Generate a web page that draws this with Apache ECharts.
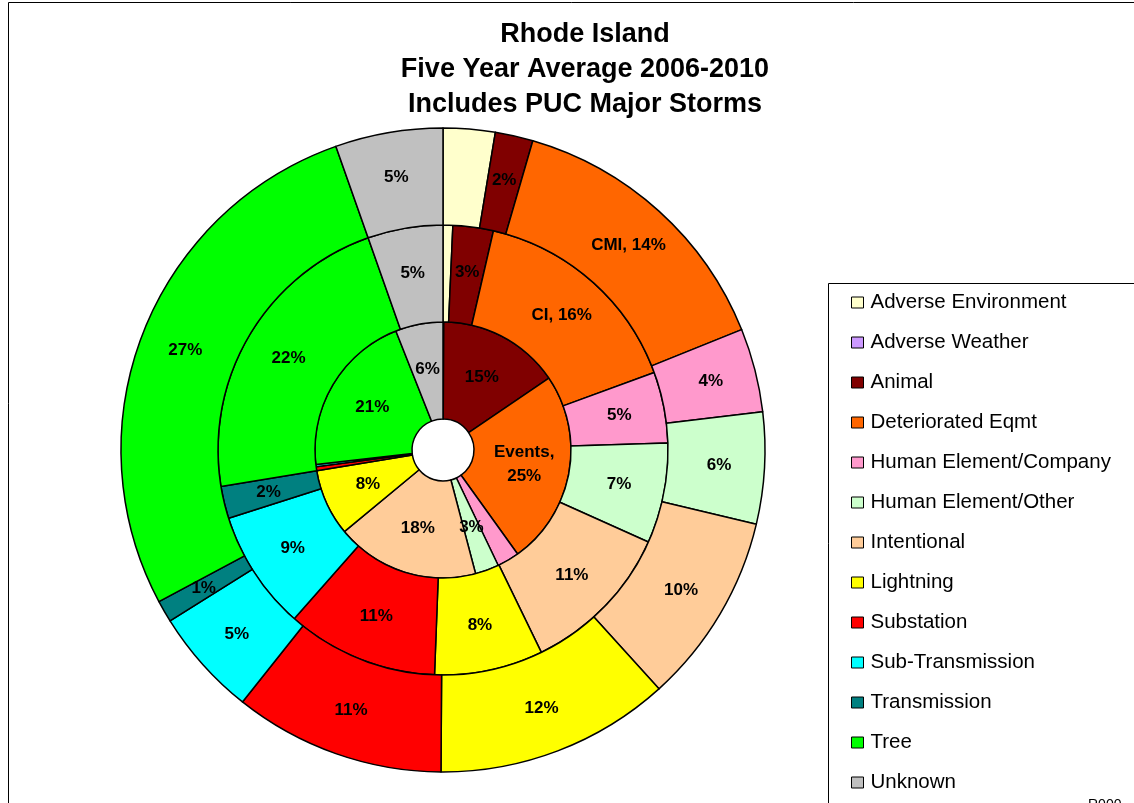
<!DOCTYPE html>
<html>
<head>
<meta charset="utf-8">
<script src="https://cdn.jsdelivr.net/npm/echarts@6/dist/echarts.min.js"></script>
<style>
html,body{margin:0;padding:0;background:#fff;}
#chart{width:1134px;height:803px;}
</style>
</head>
<body>
<div id="chart"></div>
<script>
const categories = ['Adverse Environment','Adverse Weather','Animal','Deteriorated Eqmt','Human Element/Company','Human Element/Other','Intentional','Lightning','Substation','Sub-Transmission','Transmission','Tree','Unknown'];
const colors = ['#FFFFCC','#CC99FF','#800000','#FF6600','#FF99CC','#CCFFCC','#FFCC99','#FFFF00','#FF0000','#00FFFF','#008080','#00FF00','#C0C0C0'];
// percent shares
const eventsValues = [0.1, 0, 15.4, 24.6, 2.8, 3.0, 18.1, 8.4, 0.5, 0.3, 0, 20.8, 6.0];
const ciValues     = [0.7, 0, 2.9, 15.8, 5.1, 7.2, 11.1, 7.8, 10.9, 8.6, 2.3, 22.2, 5.4];
const cmiValues    = [2.6, 0, 1.9, 14.4, 4.2, 5.6, 9.6, 11.8, 10.6, 5.4, 1.1, 27.4, 5.4];
const ringNames = ['Events', 'CI', 'CMI'];
const eventsHidden = ['Adverse Environment','Human Element/Company','Substation','Sub-Transmission','Transmission'];
const ciHidden = ['Adverse Environment'];
const cmiHidden = ['Adverse Environment'];
const titleLines = ['Rhode Island','Five Year Average 2006-2010','Includes PUC Major Storms'];

const FONT = '"Liberation Sans", Arial, sans-serif';

function buildData(values, hidden) {
  return categories.map((c, i) => {
    const item = { name: c, value: values[i], itemStyle: { color: colors[i] } };
    if (values[i] === 0) {
      item.itemStyle.borderWidth = 0;
      item.label = { show: false };
    } else if (hidden.indexOf(c) >= 0) {
      item.label = { show: false };
    }
    return item;
  });
}

function makeRing(name, values, hidden, r0, r1, sep) {
  return {
    type: 'pie',
    name: name,
    center: [443, 450],
    radius: [r0, r1],
    startAngle: 90,
    clockwise: true,
    avoidLabelOverlap: false,
    silent: true,
    minAngle: 0,
    itemStyle: { borderColor: '#000', borderWidth: 1.5 },
    label: {
      show: true,
      position: 'inside',
      color: '#000',
      fontFamily: FONT,
      fontWeight: 'bold',
      fontSize: 17,
      lineHeight: 24,
      formatter: function (p) {
        const pct = Math.round(p.percent) + '%';
        if (p.name === 'Deteriorated Eqmt') return name + ',' + sep + pct;
        return pct;
      }
    },
    labelLine: { show: false },
    emphasis: { disabled: true },
    data: buildData(values, hidden)
  };
}

const chart = echarts.init(document.getElementById('chart'), null, { renderer: 'canvas' });
chart.setOption({
  animation: false,
  backgroundColor: '#fff',
  title: {
    text: titleLines.join('\n'),
    left: 580,
    top: 12,
    textAlign: 'center',
    textStyle: { fontFamily: FONT, fontWeight: 'bold', fontSize: 27, lineHeight: 35, color: '#000' }
  },
  graphic: [
    { type: 'rect', z: -10, shape: { x: 8.5, y: 2.5, width: 1300, height: 900 }, style: { fill: 'none', stroke: '#000', lineWidth: 1 } },
    { type: 'rect', z: -10, shape: { x: 828.5, y: 283.5, width: 400, height: 600 }, style: { fill: '#fff', stroke: '#000', lineWidth: 1 } },
    { type: 'text', z: 10, x: 1088, y: 798, style: { text: 'R000', fontFamily: FONT, fontSize: 14, fill: '#000' } }
  ],
  legend: {
    orient: 'vertical',
    left: 851,
    top: 292,
    padding: 0,
    itemWidth: 12,
    itemHeight: 11,
    itemGap: 19,
    icon: 'rect',
    selectedMode: false,
    itemStyle: { borderColor: '#000', borderWidth: 1 },
    textStyle: { fontFamily: FONT, fontSize: 20.5, lineHeight: 20, color: '#000', padding: [0, 0, 0, 2] },
    data: categories
  },
  series: [
    makeRing(ringNames[0], eventsValues, eventsHidden, 31, 128, '\n'),
    makeRing(ringNames[1], ciValues, ciHidden, 128, 225, ' '),
    makeRing(ringNames[2], cmiValues, cmiHidden, 225, 322, ' ')
  ]
});
</script>
</body>
</html>
